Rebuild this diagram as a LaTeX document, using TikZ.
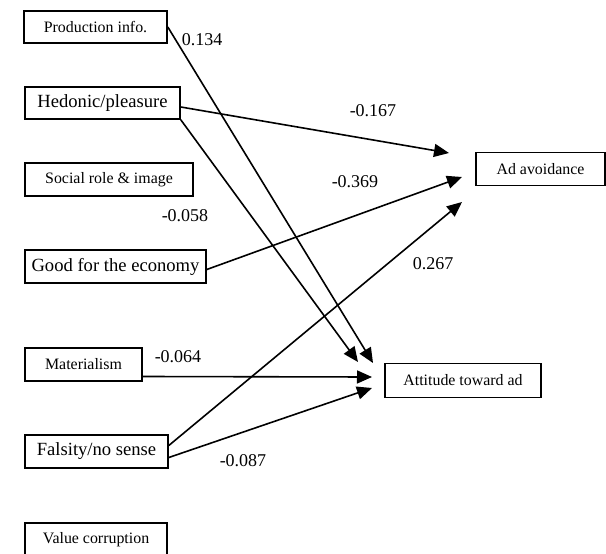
\documentclass[tikz,border=0pt]{standalone}
\usepackage{fontspec}
\setmainfont{Liberation Serif}
\usepackage{tikz}
\usetikzlibrary{arrows.meta}

\begin{document}
\begin{tikzpicture}[x=1pt, y=-1pt, >={Triangle[length=15pt,width=13pt]},
  box/.style={draw, line width=1.6pt, inner sep=0pt, align=center},
  sbox/.style={box, font=\fontsize{15.9}{19}\selectfont},
  lbox/.style={box, font=\fontsize{18.6}{22}\selectfont},
  coef/.style={inner sep=0pt, font=\fontsize{18}{21}\selectfont},
  path/.style={line width=1.6pt, ->}]
\useasboundingbox (0,0) rectangle (606,554);
% predictors
\node[sbox, minimum width=143pt, minimum height=32pt] (prod) at (95.5,27) {Production info.};
\node[lbox, minimum width=155pt, minimum height=32pt] (hed) at (102.5,103) {Hedonic/pleasure};
\node[sbox, minimum width=168pt, minimum height=33pt] (soc) at (109,179.5) {Social role \& image};
\node[lbox, minimum width=181pt, minimum height=33pt] (eco) at (115.5,266.5) {Good for the economy};
\node[sbox, minimum width=117pt, minimum height=33pt] (mat) at (83.5,364.5) {Materialism};
\node[lbox, minimum width=143pt, minimum height=33pt] (fal) at (96.5,451.5) {Falsity/no sense};
\node[sbox, minimum width=142pt, minimum height=33pt] (val) at (96,539.5) {Value corruption};
% outcomes
\node[sbox, minimum width=129pt, minimum height=33pt] (av) at (540.5,169) {Ad avoidance};
\node[sbox, minimum width=156pt, minimum height=34pt] (att) at (463,380.5) {Attitude toward ad};
% arrow tips
\coordinate (av1) at (449,153);
\coordinate (av2) at (462,177);
\coordinate (av3) at (462,202);
\coordinate (at1) at (358,362);
\coordinate (at2) at (373,363);
\coordinate (at3) at (372,377);
\coordinate (at4) at (372,388);
% paths
\draw[path] (prod.east) -- (at2);
\draw[path] ([yshift=-4pt]hed.east) -- (av1);
\draw[path] (hed.south east) -- (at1);
\draw[path] ([yshift=-3pt]eco.east) -- (av2);
\draw[path] ([yshift=6pt]fal.east) -- (av3);
\draw[path] ([yshift=-12pt]mat.east) -- (at3);
\draw[path] ([yshift=-6pt]fal.east) -- (at4);
% coefficients
\node[coef] (c1) at (202,40) {0.134};
\node[coef] (c2) at (373,111) {-0.167};
\node[coef] (c3) at (355,182) {-0.369};
\node[coef] (c4) at (185,216) {-0.058};
\node[coef] (c5) at (433,264) {0.267};
\node[coef] (c6) at (178,357) {-0.064};
\node[coef] (c7) at (243,461) {-0.087};
\end{tikzpicture}
\end{document}
